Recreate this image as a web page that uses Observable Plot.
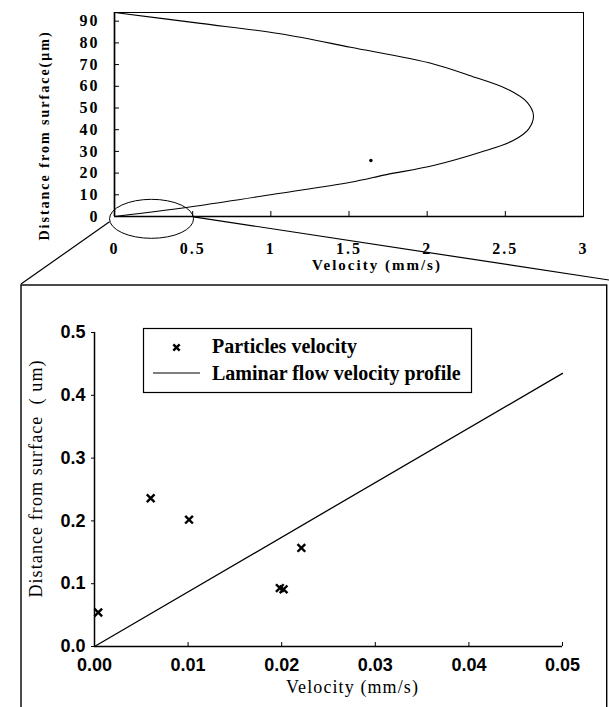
<!DOCTYPE html>
<html>
<head>
<meta charset="utf-8">
<script src="https://cdn.jsdelivr.net/npm/d3@7"></script>
<script src="https://cdn.jsdelivr.net/npm/@observablehq/plot@0.6"></script>
<style>
  html, body { margin: 0; padding: 0; background: #fff; }
  #wrap { position: relative; width: 609px; height: 707px; overflow: hidden; background: #fff; }
  #wrap > svg { position: absolute; left: 0; }
  #topPlot text { letter-spacing: 2px; }
  #zoomPlot g[aria-label="text"] text { letter-spacing: 1.1px; }
</style>
</head>
<body>
<div id="wrap"></div>
<script>
// ---- Top chart: laminar velocity profile ----
const profileVelocity = [0, 0.55, 1.06, 1.51, 2.04, 2.27, 2.51, 2.64, 2.68, 2.65, 2.55, 2.34, 2.04, 1.74, 1.51, 1.06, 0.55, 0];
const profileDistance = [94, 89, 84.2, 78, 70.3, 65, 58.8, 52.6, 46.5, 40.4, 35, 29.6, 23.5, 19.3, 15.8, 10.7, 5.1, 0];
const markerVelocity = [1.64];
const markerDistance = [25.8];
const topXTicks = [0, 0.5, 1, 1.5, 2, 2.5, 3];
const topYTicks = [0, 10, 20, 30, 40, 50, 60, 70, 80, 90];
const topXLabel = "Velocity (mm/s)";
const topYLabel = "Distance from surface(μm)";

// ---- Lower chart: zoom near the surface ----
const particleVelocity = [0.0004, 0.006, 0.0101, 0.0198, 0.0202, 0.0221];
const particleDistance = [0.054, 0.236, 0.202, 0.093, 0.091, 0.157];
const laminarVelocity = [0, 0.05];
const laminarDistance = [0, 0.435];
const zoomXTicks = [0, 0.01, 0.02, 0.03, 0.04, 0.05];
const zoomYTicks = [0, 0.1, 0.2, 0.3, 0.4, 0.5];
const zoomXLabel = "Velocity (mm/s)";
const zoomYLabel = "Distance from surface\u00a0 ( um)";
const legendLabels = ["Particles velocity", "Laminar flow velocity profile"];

const serif = "'Liberation Serif', 'Times New Roman', Times, serif";
const sans = "'Liberation Sans', Arial, Helvetica, sans-serif";

const profile = profileVelocity.map((v, i) => ({v, d: profileDistance[i]}));
const marker = markerVelocity.map((v, i) => ({v, d: markerDistance[i]}));
const particles = particleVelocity.map((v, i) => ({v, d: particleDistance[i]}));
const laminar = laminarVelocity.map((v, i) => ({v, d: laminarDistance[i]}));

const topPlot = Plot.plot({
  width: 609, height: 284,
  marginLeft: 114, marginRight: 26, marginTop: 12, marginBottom: 68,
  style: {background: "transparent", color: "#000", fontFamily: serif},
  x: {domain: [0, 3], label: null},
  y: {domain: [0, 94], label: null},
  marks: [
    Plot.frame({stroke: "#000", strokeWidth: 1}),
    Plot.axisX(topXTicks, {tickSize: 5, dy: -5, fill: "none", label: null, stroke: "#000"}),
    Plot.axisX(topXTicks, {tickSize: 0, tickPadding: 26, tickFormat: d => String(d), label: null,
      fontSize: 16, fontWeight: "bold", fontFamily: serif, fill: "#000"}),
    Plot.axisY(topYTicks, {tickSize: 5, dx: 5, fill: "none", label: null, stroke: "#000"}),
    Plot.axisY(topYTicks, {tickSize: 0, tickPadding: 15, tickFormat: d => String(d), label: null,
      fontSize: 16, fontWeight: "bold", fontFamily: serif, fill: "#000"}),
    Plot.ruleX([0], {stroke: "#000", strokeWidth: 1.7}),
    Plot.ruleY([0], {stroke: "#000", strokeWidth: 1.7}),
    Plot.line(profile, {x: "v", y: "d", stroke: "#000", strokeWidth: 1.1, curve: "catmull-rom"}),
    Plot.dot(marker, {x: "v", y: "d", r: 1.7, fill: "#000", stroke: "none"}),
    Plot.text([topXLabel], {frameAnchor: "bottom", dx: 28, dy: 49, lineAnchor: "middle", textAnchor: "middle",
      fontSize: 15, fontWeight: "bold", fontFamily: serif, fill: "#000"}),
    Plot.text([topYLabel], {frameAnchor: "left", rotate: -90, dx: -70, dy: 21, lineAnchor: "middle", textAnchor: "middle",
      fontSize: 14, fontWeight: "bold", fontFamily: serif, fill: "#000"})
  ]
});
topPlot.id = "topPlot";
topPlot.style.top = "0px";

const zoomPlot = Plot.plot({
  width: 609, height: 423,
  marginLeft: 94, marginRight: 47, marginTop: 48, marginBottom: 61,
  style: {background: "transparent", color: "#000", fontFamily: serif},
  x: {domain: [0, 0.05], label: null},
  y: {domain: [0, 0.5], label: null},
  marks: [
    Plot.axisX(zoomXTicks, {tickSize: 4, dy: -4, fill: "none", label: null, stroke: "#000"}),
    Plot.axisX(zoomXTicks, {tickSize: 0, tickPadding: 12, tickFormat: d3.format(".2f"), label: null,
      fontSize: 18, fontWeight: "bold", fontFamily: sans, fill: "#000"}),
    Plot.axisY(zoomYTicks, {tickSize: 3, fill: "none", label: null, stroke: "#000"}),
    Plot.axisY(zoomYTicks, {tickSize: 0, tickPadding: 9, tickFormat: d3.format(".1f"), label: null,
      fontSize: 18, fontWeight: "bold", fontFamily: sans, fill: "#000"}),
    Plot.ruleX([0], {stroke: "#000", strokeWidth: 1.5}),
    Plot.ruleY([0], {stroke: "#000", strokeWidth: 1.5}),
    Plot.line(laminar, {x: "v", y: "d", stroke: "#000", strokeWidth: 1.3}),
    Plot.dot(particles, {x: "v", y: "d", symbol: "times", r: 3.6, stroke: "#000", strokeWidth: 2.4}),
    Plot.text([zoomXLabel], {frameAnchor: "bottom", dx: 24, dy: 41, lineAnchor: "middle", textAnchor: "middle",
      fontSize: 18, fontFamily: serif, fill: "#000"}),
    Plot.text([zoomYLabel], {frameAnchor: "left", rotate: -90, dx: -58, dy: -11, lineAnchor: "middle", textAnchor: "middle",
      fontSize: 18, fontFamily: serif, fill: "#000"})
  ]
});
zoomPlot.id = "zoomPlot";
zoomPlot.style.top = "284px";

const wrap = document.getElementById("wrap");
wrap.appendChild(topPlot);
wrap.appendChild(zoomPlot);

// ---- Overlay: zoom ellipse, connector lines, inset box, legend ----
const tx = topPlot.scale("x"), ty = topPlot.scale("y");
const ecx = tx.apply(0.24), ecy = ty.apply(-1.3);
const erx = 42, ery = 19.5;

const ov = d3.create("svg")
  .attr("width", 609).attr("height", 707)
  .style("top", "0px").style("pointer-events", "none");

ov.append("ellipse")
  .attr("cx", ecx).attr("cy", ecy).attr("rx", erx).attr("ry", ery)
  .attr("fill", "none").attr("stroke", "#000").attr("stroke-width", 1);

const boxL = 21, boxT = 285, boxR = 606.7;
ov.append("line").attr("x1", ecx - erx).attr("y1", ecy + 3).attr("x2", boxL).attr("y2", boxT - 1)
  .attr("stroke", "#000").attr("stroke-width", 1.2);
ov.append("line").attr("x1", ecx + erx).attr("y1", ecy - 2).attr("x2", 609).attr("y2", 280)
  .attr("stroke", "#000").attr("stroke-width", 1.2);
ov.append("rect").attr("x", boxL).attr("y", boxT).attr("width", boxR - boxL).attr("height", 500)
  .attr("fill", "none").attr("stroke", "#000").attr("stroke-width", 1.4);

// legend
const lg = ov.append("g");
lg.append("rect").attr("x", 143.5).attr("y", 328.5).attr("width", 328).attr("height", 64)
  .attr("fill", "#fff").attr("stroke", "#000").attr("stroke-width", 1.2);
lg.append("path").attr("transform", "translate(176.5,347.5)")
  .attr("d", d3.symbol(d3.symbolTimes, 28)())
  .attr("fill", "none").attr("stroke", "#000").attr("stroke-width", 2.4);
lg.append("line").attr("x1", 153).attr("x2", 200).attr("y1", 373).attr("y2", 373)
  .attr("stroke", "#000").attr("stroke-width", 1.2);
lg.selectAll("text").data(legendLabels).join("text")
  .attr("x", 212).attr("y", (d, i) => 353 + i * 27)
  .attr("font-family", serif).attr("font-size", 20).attr("font-weight", "bold")
  .attr("fill", "#000").text(d => d);

wrap.appendChild(ov.node());
</script>
</body>
</html>
